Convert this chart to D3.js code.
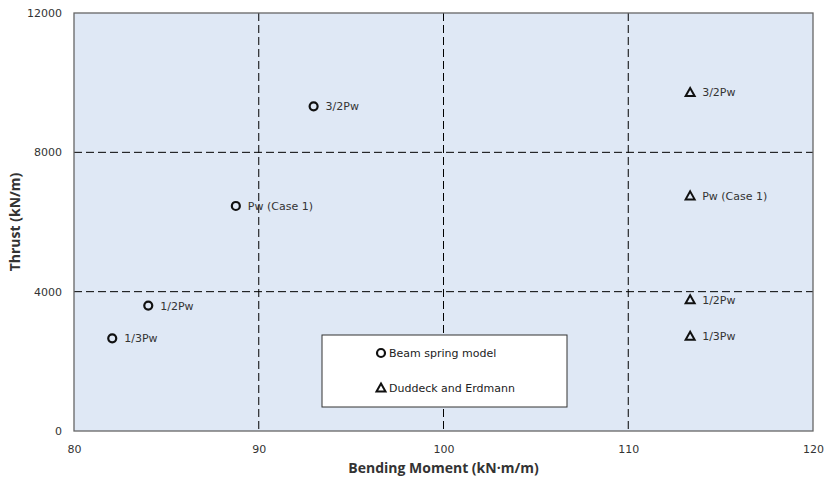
<!DOCTYPE html>
<html>
<head>
<meta charset="utf-8">
<script src="https://cdn.jsdelivr.net/npm/d3@7"></script>
<style>
  body { margin: 0; background: #fff; }
  text { font-family: "DejaVu Sans", Verdana, sans-serif; }
</style>
</head>
<body>
<div id="chart"></div>
<script>
// data
const xTicks = [80, 90, 100, 110, 120];
const yTicks = [0, 4000, 8000, 12000];
const beamLabels = ['1/3Pw', '1/2Pw', 'Pw (Case 1)', '3/2Pw'];
const beamMoment = [82.07, 84.02, 88.76, 92.97];
const beamThrust = [2660, 3600, 6460, 9320];
const dudLabels = ['1/3Pw', '1/2Pw', 'Pw (Case 1)', '3/2Pw'];
const dudMoment = [113.35, 113.35, 113.35, 113.35];
const dudThrust = [2720, 3770, 6750, 9720];
const legendNames = ['Beam spring model', 'Duddeck and Erdmann'];

const width = 827, height = 481;
const margin = { top: 13, right: 14, bottom: 50, left: 74 };
const w = width - margin.left - margin.right;
const h = height - margin.top - margin.bottom;

const svg = d3.select('#chart').append('svg')
  .attr('width', width)
  .attr('height', height);

const g = svg.append('g')
  .attr('transform', `translate(${margin.left},${margin.top})`);

const x = d3.scaleLinear().domain([80, 120]).range([0, w]);
const y = d3.scaleLinear().domain([0, 12000]).range([h, 0]);

// plot background
g.append('rect')
  .attr('width', w).attr('height', h)
  .attr('fill', '#dfe8f5');

// dashed grid
g.append('g').selectAll('line')
  .data(xTicks.slice(1, -1))
  .join('line')
  .attr('x1', d => x(d)).attr('x2', d => x(d))
  .attr('y1', 0).attr('y2', h)
  .attr('stroke', '#000').attr('stroke-width', 1)
  .attr('stroke-dasharray', '8,4');

g.append('g').selectAll('line')
  .data(yTicks.slice(1, -1))
  .join('line')
  .attr('y1', d => y(d)).attr('y2', d => y(d))
  .attr('x1', 0).attr('x2', w)
  .attr('stroke', '#000').attr('stroke-width', 1)
  .attr('stroke-dasharray', '8,4');

// frame
g.append('rect')
  .attr('width', w).attr('height', h)
  .attr('fill', 'none')
  .attr('stroke', '#666').attr('stroke-width', 1.3);

// axes
const xAxis = g.append('g')
  .attr('transform', `translate(0,${h})`)
  .call(d3.axisBottom(x).tickValues(xTicks).tickFormat(d3.format('d')).tickSize(0).tickPadding(14));
const yAxis = g.append('g')
  .call(d3.axisLeft(y).tickValues(yTicks).tickFormat(d3.format('d')).tickSize(0).tickPadding(12));
[xAxis, yAxis].forEach(a => {
  a.select('.domain').remove();
  a.selectAll('text')
    .attr('font-family', '"DejaVu Sans", Verdana, sans-serif')
    .attr('font-size', 11).attr('fill', '#333');
});

// axis titles
svg.append('text')
  .attr('x', margin.left + w / 2).attr('y', 473)
  .attr('text-anchor', 'middle')
  .attr('font-size', 14).attr('font-weight', 'bold')
  .attr('fill', '#333')
  .style('font-family', '"Open Sans", sans-serif')
  .text('Bending Moment (kN·m/m)');

svg.append('text')
  .attr('transform', `translate(20,${margin.top + h / 2}) rotate(-90)`)
  .attr('text-anchor', 'middle')
  .attr('font-size', 14).attr('font-weight', 'bold')
  .attr('fill', '#333')
  .style('font-family', '"Open Sans", sans-serif')
  .text('Thrust (kN/m)');

const triPath = 'M0,-4.5L4.5,3.5L-4.5,3.5Z';

function drawCircle(sel) {
  sel.append('circle').attr('r', 4)
    .attr('fill', 'none').attr('stroke', '#111').attr('stroke-width', 2.2);
}
function drawTriangle(sel) {
  sel.append('path').attr('d', triPath)
    .attr('fill', 'none').attr('stroke', '#111').attr('stroke-width', 2)
    .attr('stroke-linejoin', 'miter');
}

const beam = beamMoment.map((m, i) => ({ m, t: beamThrust[i], label: beamLabels[i] }));
const dud = dudMoment.map((m, i) => ({ m, t: dudThrust[i], label: dudLabels[i] }));

function drawSeries(data, marker) {
  const pts = g.append('g').selectAll('g')
    .data(data)
    .join('g')
    .attr('transform', d => `translate(${x(d.m)},${y(d.t)})`);
  pts.each(function () { marker(d3.select(this)); });
  pts.append('text')
    .attr('x', 12).attr('y', 4)
    .attr('font-size', 11).attr('fill', '#333')
    .text(d => d.label);
}
drawSeries(beam, drawCircle);
drawSeries(dud, drawTriangle);

// legend
const legend = svg.append('g').attr('transform', 'translate(322,335)');
legend.append('rect')
  .attr('width', 245).attr('height', 72)
  .attr('fill', '#fff').attr('stroke', '#333').attr('stroke-width', 1);
const items = legend.selectAll('g.item')
  .data(legendNames)
  .join('g')
  .attr('class', 'item')
  .attr('transform', (d, i) => `translate(59,${18 + i * 35})`);
items.each(function (d, i) {
  (i === 0 ? drawCircle : drawTriangle)(d3.select(this));
});
items.append('text')
  .attr('x', 8).attr('y', 4)
  .attr('font-size', 11).attr('fill', '#222')
  .text(d => d);
</script>
</body>
</html>
